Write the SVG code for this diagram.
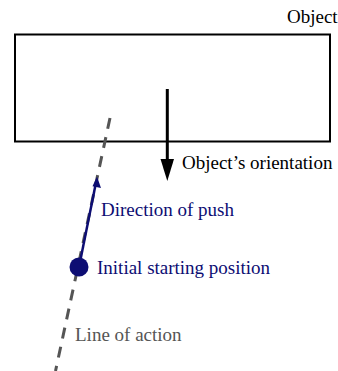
<svg xmlns="http://www.w3.org/2000/svg" width="338" height="371" viewBox="0 0 338 371">
<style>
text{font-family:'Liberation Serif','Times New Roman',serif;font-size:19px}
.blk{fill:#000}
.navy{fill:#0d0d73}
.gray{fill:#555}
</style>
<rect width="338" height="371" fill="#fff"/>
<g id="object">
<rect x="15" y="34.5" width="315" height="107" fill="none" stroke="#000" stroke-width="2"/>
<text class="blk" x="287" y="22.5">Object</text>
</g>
<g id="connectors">
<line x1="110" y1="118" x2="55.5" y2="371" stroke="#555" stroke-width="3" stroke-dasharray="11 8.5"/>
<line x1="167.3" y1="89" x2="167.3" y2="162" stroke="#000" stroke-width="3"/>
<polygon points="160.5,159 174,159 167.3,181" fill="#000"/>
<line x1="79" y1="267" x2="95.5" y2="185" stroke="#0d0d73" stroke-width="2.5"/>
<polygon points="97,176.5 101,188 92.5,186.3" fill="#0d0d73"/>
</g>
<g id="orientation">
<text class="blk" x="182" y="169">Object’s orientation</text>
</g>
<g id="push">
<text class="navy" x="101" y="216">Direction of push</text>
</g>
<g id="start">
<circle cx="79" cy="267" r="9.5" fill="#0d0d73"/>
<text class="navy" x="97" y="274" font-size="18.5">Initial starting position</text>
</g>
<g id="lineofaction">
<text class="gray" x="75" y="341">Line of action</text>
</g>
</svg>
